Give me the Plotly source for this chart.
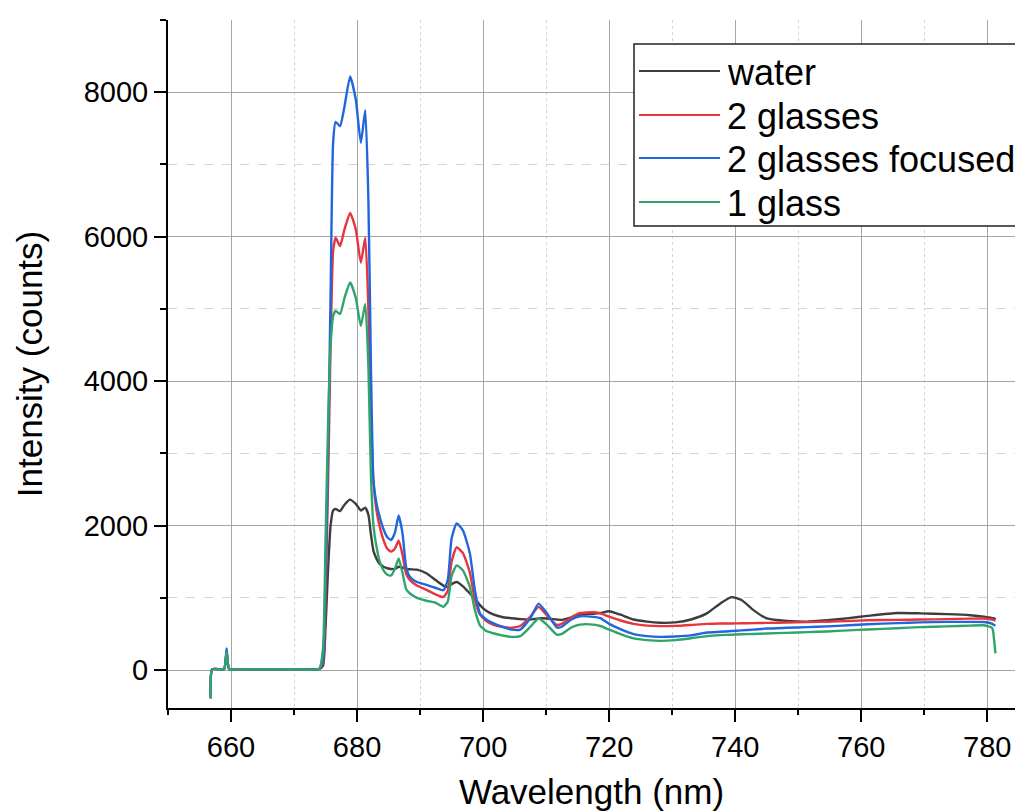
import plotly.graph_objects as go

wavelength = [656.8, 657.0, 658.9, 659.3, 659.7, 662.0, 666.0, 670.0, 674.0, 674.6,
              675.0, 675.4, 675.8, 676.2, 676.6, 677.3, 678.0, 678.9, 679.8, 680.6,
              681.3, 681.8, 682.2, 682.6, 683.1, 683.6, 684.2, 684.8, 685.4, 686.0,
              686.6, 687.2, 687.8, 688.4, 689.5, 691.0, 692.4, 693.7, 694.4, 695.0,
              695.8, 696.8, 697.9, 698.7, 699.5, 700.5, 701.6, 703.0, 704.5, 705.9,
              707.5, 708.8, 710.1, 711.7, 712.5, 714.0, 715.4, 717.5, 718.6, 720.0,
              721.7, 723.9, 726.0, 728.1, 730.5, 733.0, 735.5, 737.6, 739.4, 741.0,
              742.9, 745.0, 748.2, 751.4, 754.6, 758.0, 761.0, 765.7, 769.4, 773.6,
              777.3, 779.5, 780.8, 781.1, 781.3]

water = [-390, 10, 15, 240, 15, 10, 10, 10, 15, 60,
         600, 1400, 2000, 2210, 2230, 2200, 2290, 2360, 2300, 2210,
         2250, 2150, 1880, 1650, 1540, 1470, 1430, 1410, 1400, 1400,
         1430, 1420, 1400, 1395, 1390, 1340, 1250, 1170, 1150, 1190,
         1220, 1160, 1060, 990, 900, 820, 770, 735, 718, 705,
         700, 715, 715, 700, 695, 730, 770, 780, 790, 815,
         770, 700, 670, 655, 660, 700, 785, 920, 1010, 970,
         830, 715, 680, 670, 690, 720, 750, 790, 785, 775,
         760, 740, 720, 715, 700]

two_glasses = [-390, 10, 15, 260, 15, 10, 10, 10, 15, 100,
               1000, 2600, 4500, 5800, 5985, 5870, 6100, 6330, 6100, 5640,
               5985, 5000, 3500, 2600, 2200, 1980, 1800, 1680, 1640, 1680,
               1796, 1600, 1330, 1245, 1170, 1110, 1050, 1012, 1100, 1500,
               1700, 1620, 1350, 967, 770, 680, 630, 600, 585, 610,
               740, 875, 760, 625, 640, 730, 790, 800, 785, 740,
               690, 640, 615, 608, 612, 625, 640, 645, 645, 648,
               650, 653, 658, 664, 670, 680, 690, 695, 700, 705,
               712, 714, 700, 690, 690]

two_glasses_focused = [-390, 10, 15, 300, 15, 10, 10, 10, 15, 150,
                       1300, 3000, 5200, 7300, 7590, 7530, 7800, 8220, 7900, 7300,
                       7750, 6500, 4200, 2625, 2300, 2118, 1950, 1840, 1800, 1900,
                       2140, 1900, 1420, 1290, 1220, 1180, 1140, 1105, 1250, 1820,
                       2030, 1935, 1615, 1105, 785, 700, 650, 600, 560, 560,
                       720, 920, 790, 590, 600, 700, 745, 737, 720, 640,
                       570, 497, 470, 460, 465, 480, 520, 530, 540, 550,
                       560, 575, 585, 595, 605, 620, 635, 650, 660, 667,
                       667, 665, 640, 622, 620]

one_glass = [-390, 10, 15, 250, 15, 10, 10, 10, 20, 300,
             1800, 3400, 4500, 4900, 4975, 4930, 5150, 5365, 5150, 4766,
             5070, 4200, 2700, 2000, 1700, 1500, 1380, 1320, 1310, 1400,
             1545, 1350, 1120, 1060, 1000, 960, 935, 875, 950, 1300,
             1450, 1380, 1150, 830, 620, 540, 510, 480, 460, 470,
             600, 714, 630, 490, 500, 590, 630, 630, 610, 560,
             500, 438, 415, 405, 415, 440, 470, 484, 490, 495,
             500, 507, 515, 525, 535, 550, 562, 580, 595, 605,
             615, 620, 580, 400, 230]

series_names = ["water", "2 glasses", "2 glasses focused", "1 glass"]
series_values = [water, two_glasses, two_glasses_focused, one_glass]
series_colors = ["#3d3d3d", "#e8353d", "#2266dd", "#2fa56b"]

x_ticks = [660, 680, 700, 720, 740, 760, 780]
y_ticks = [0, 2000, 4000, 6000, 8000]

FONT = "Liberation Sans, Arial, sans-serif"
L, R, T, B = 168, 0, 20, 104
W, H = 1015, 812
pw, ph = W - L - R, H - T - B

fig = go.Figure()
for name, vals, col in zip(series_names, series_values, series_colors):
    fig.add_trace(go.Scatter(x=wavelength, y=vals, mode="lines", name=name,
                             line=dict(color=col, width=2.4, shape="spline", smoothing=0.5),
                             showlegend=False))

def px_x(p):
    return (p - L) / pw

def px_y(p):
    return (H - B - p) / ph

shapes = [dict(type="rect", xref="paper", yref="paper",
               x0=px_x(634), x1=px_x(1040), y0=px_y(226), y1=px_y(44),
               line=dict(color="#222222", width=1.5), fillcolor="white", layer="above")]
annotations = []
row_y = [71, 115, 158, 202]
for name, col, ry in zip(series_names, series_colors, row_y):
    shapes.append(dict(type="line", xref="paper", yref="paper",
                       x0=px_x(639), x1=px_x(720), y0=px_y(ry), y1=px_y(ry),
                       line=dict(color=col, width=2), layer="above"))
    annotations.append(dict(xref="paper", yref="paper", x=px_x(725), y=px_y(ry + 1),
                            xanchor="left", yanchor="middle", text=name, showarrow=False,
                            font=dict(family=FONT, size=36, color="black")))

fig.update_layout(
    width=W, height=H,
    margin=dict(l=L, r=R, t=T, b=B),
    paper_bgcolor="white", plot_bgcolor="white",
    font=dict(family=FONT, color="black"),
    shapes=shapes, annotations=annotations,
)

fig.update_xaxes(
    range=[650, 784.4], tickvals=x_ticks, ticktext=[str(v) for v in x_ticks],
    showline=True, linecolor="black", linewidth=2,
    ticks="outside", ticklen=12, tickwidth=2, tickcolor="black",
    tickfont=dict(size=29, family=FONT),
    showgrid=True, gridcolor="#a6a6a6", gridwidth=1.3,
    minor=dict(dtick=10, tick0=650, ticks="outside", ticklen=5, tickwidth=2, tickcolor="black",
               showgrid=True, gridcolor="#d4d4d4", gridwidth=1, griddash="dot"),
    zeroline=False,
    title=dict(text="Wavelength (nm)", font=dict(size=35, family=FONT), standoff=18),
)
fig.update_yaxes(
    range=[-525, 9000], tickvals=y_ticks, ticktext=[str(v) for v in y_ticks],
    showline=True, linecolor="black", linewidth=2,
    ticks="outside", ticklen=12, tickwidth=2, tickcolor="black",
    tickfont=dict(size=29, family=FONT),
    showgrid=True, gridcolor="#a6a6a6", gridwidth=1.3,
    minor=dict(dtick=1000, tick0=0, ticks="outside", ticklen=6, tickwidth=2, tickcolor="black",
               showgrid=True, gridcolor="#d4d4d4", gridwidth=1, griddash="dash"),
    zeroline=False,
    title=dict(text="Intensity (counts)", font=dict(size=35, family=FONT), standoff=30),
)

fig.write_html("out.html")
